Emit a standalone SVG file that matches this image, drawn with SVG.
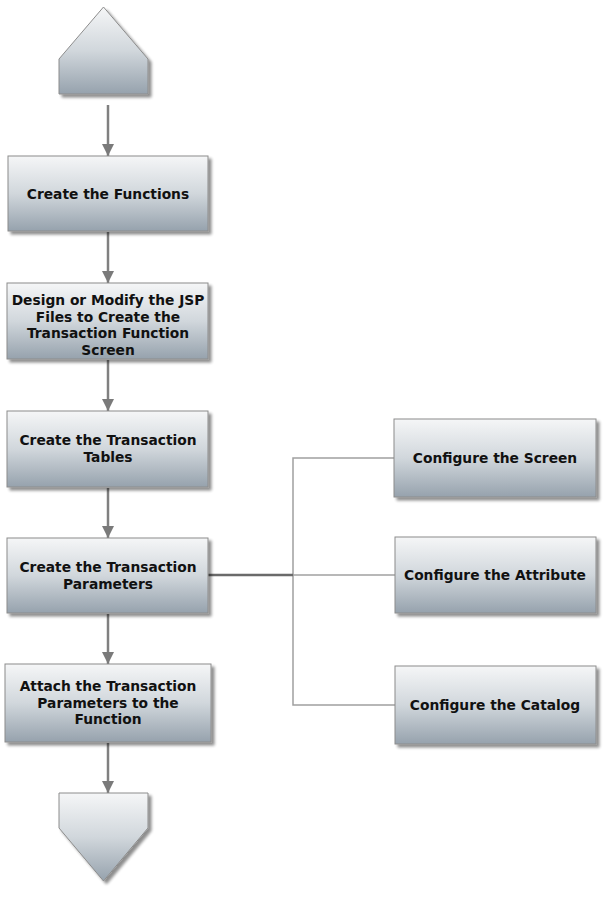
<svg xmlns="http://www.w3.org/2000/svg" width="608" height="907" viewBox="0 0 608 907">
<defs>
<linearGradient id="g" x1="0" y1="0" x2="0" y2="1">
<stop offset="0" stop-color="#f5f6f7"/>
<stop offset="0.5" stop-color="#d1d7dc"/>
<stop offset="1" stop-color="#96a2ad"/>
</linearGradient>
<filter id="sh" x="-10%" y="-10%" width="125%" height="130%">
<feGaussianBlur in="SourceAlpha" stdDeviation="1.5"/>
<feOffset dx="3" dy="3" result="b"/>
<feComponentTransfer><feFuncA type="linear" slope="0.45"/></feComponentTransfer>
<feMerge><feMergeNode/><feMergeNode in="SourceGraphic"/></feMerge>
</filter>
<marker id="ah" viewBox="0 0 12 12" markerWidth="12" markerHeight="13" refX="12" refY="6" orient="auto" markerUnits="userSpaceOnUse">
<path d="M0,0 L12,6 L0,12 Z" fill="#7a7a7a"/>
</marker>
</defs>
<style>
.n{fill:url(#g);stroke:#8c8c8c;stroke-width:1;filter:url(#sh)}
.t{font-family:"DejaVu Sans",Verdana,sans-serif;font-weight:bold;font-size:13.8px;fill:#111111;text-anchor:middle}
.a{stroke:#808080;stroke-width:2.5;fill:none}
.c{stroke:#a0a0a0;stroke-width:1.5;fill:none}
.cd{stroke:#6a6a6a;stroke-width:2.5;fill:none}
</style>
<rect width="608" height="907" fill="#ffffff"/>
<g id="connectors">
<line class="a" x1="108" y1="105" x2="108" y2="156" marker-end="url(#ah)"/>
<line class="a" x1="108" y1="232" x2="108" y2="283" marker-end="url(#ah)"/>
<line class="a" x1="108" y1="360" x2="108" y2="411" marker-end="url(#ah)"/>
<line class="a" x1="108" y1="488" x2="108" y2="538" marker-end="url(#ah)"/>
<line class="a" x1="108" y1="614" x2="108" y2="664" marker-end="url(#ah)"/>
<line class="a" x1="108" y1="743" x2="108" y2="793" marker-end="url(#ah)"/>
<polyline class="c" points="394,458 293,458 293,705 395,705"/>
<line class="c" x1="293" y1="575" x2="395" y2="575"/>
<line class="cd" x1="208" y1="575" x2="293" y2="575"/>
</g>
<g id="start">
<polygon class="n" points="59,59 103.5,7 148,59 148,94 59,94"/>
</g>
<g id="n1">
<rect class="n" x="8" y="156" width="200" height="75"/>
<text class="t" x="108" y="199">Create the Functions</text>
</g>
<g id="n2">
<rect class="n" x="7" y="283" width="201" height="76"/>
<text class="t" x="108" y="305">Design or Modify the JSP</text>
<text class="t" x="108" y="322">Files to Create the</text>
<text class="t" x="108" y="338">Transaction Function</text>
<text class="t" x="108" y="355">Screen</text>
</g>
<g id="n3">
<rect class="n" x="7" y="411" width="201" height="76"/>
<text class="t" x="108" y="445">Create the Transaction</text>
<text class="t" x="108" y="462">Tables</text>
</g>
<g id="n4">
<rect class="n" x="7" y="538" width="201" height="75"/>
<text class="t" x="108" y="572">Create the Transaction</text>
<text class="t" x="108" y="589">Parameters</text>
</g>
<g id="n5">
<rect class="n" x="5" y="664" width="206" height="78"/>
<text class="t" x="108" y="691">Attach the Transaction</text>
<text class="t" x="108" y="708">Parameters to the</text>
<text class="t" x="108" y="724">Function</text>
</g>
<g id="end">
<polygon class="n" points="59,793 148,793 148,828 103.5,881 59,828"/>
</g>
<g id="r1">
<rect class="n" x="394" y="419" width="202" height="78"/>
<text class="t" x="495" y="463">Configure the Screen</text>
</g>
<g id="r2">
<rect class="n" x="395" y="537" width="201" height="76"/>
<text class="t" x="495" y="580">Configure the Attribute</text>
</g>
<g id="r3">
<rect class="n" x="395" y="666" width="201" height="78"/>
<text class="t" x="495" y="710">Configure the Catalog</text>
</g>
</svg>
